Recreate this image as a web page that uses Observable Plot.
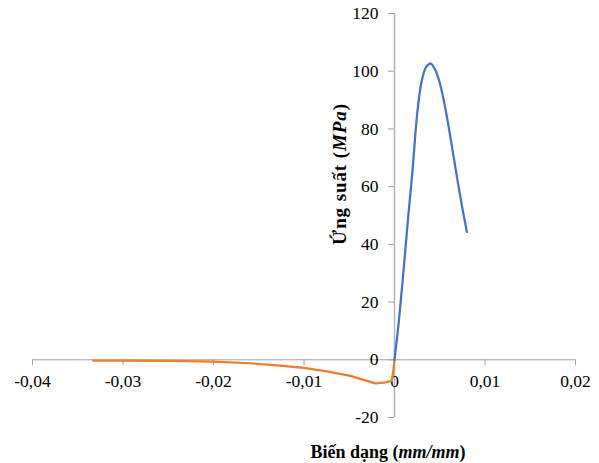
<!DOCTYPE html>
<html>
<head>
<meta charset="utf-8">
<script src="https://cdn.jsdelivr.net/npm/d3@7"></script>
<script src="https://cdn.jsdelivr.net/npm/@observablehq/plot@0.6"></script>
<style>
  html, body { margin: 0; padding: 0; background: #fff; }
  svg text { font-family: "Liberation Serif", "Times New Roman", serif; }
</style>
</head>
<body>
<div id="chart"></div>
<script>
// Tension branch (blue)
const tensionStrain = [0, 0.0005, 0.001, 0.0015, 0.002, 0.0025, 0.003, 0.0035, 0.004, 0.0045, 0.005, 0.0055, 0.006, 0.0065, 0.007, 0.0075, 0.008];
const tensionStress = [0, 14, 31, 49, 66, 85, 96.5, 101.5, 102.6, 100.5, 96, 89, 80.5, 71, 61.5, 52.5, 44.3];
// Compression branch (orange)
const compStrain = [-0.0333, -0.03, -0.025, -0.02, -0.016, -0.013, -0.01, -0.0075, -0.005, -0.0021, -0.001, -0.0003, -0.0001, 0];
const compStress = [-0.25, -0.25, -0.35, -0.6, -1.2, -1.9, -2.8, -4, -5.5, -8.2, -7.8, -7.3, -3, 0];

const xTicks = [-0.04, -0.03, -0.02, -0.01, 0, 0.01, 0.02];
const xTickLabels = ["-0,04", "-0,03", "-0,02", "-0,01", "0", "0,01", "0,02"];
const yTicks = [-20, 0, 20, 40, 60, 80, 100, 120];
const yTickLabels = ["-20", "0", "20", "40", "60", "80", "100", "120"];

const xTitle = ["Biến dạng (", "mm/mm", ")"];
const yTitle = ["Ứng suất (", "MPa", ")"];

const tension = tensionStrain.map((x, i) => ({x, y: tensionStress[i]}));
const compression = compStrain.map((x, i) => ({x, y: compStress[i]}));

const font = "Liberation Serif";

const svg = Plot.plot({
  width: 599,
  height: 463,
  marginLeft: 32,
  marginRight: 24,
  marginTop: 13,
  marginBottom: 46,
  x: {domain: [-0.04, 0.02], axis: null},
  y: {domain: [-20, 120], axis: null},
  style: {fontFamily: font, fontSize: "17px", color: "#000", background: "#fff"},
  marks: [
    Plot.ruleY([0], {x1: xTicks[0], x2: xTicks[xTicks.length - 1], stroke: "#a0a0a0", strokeWidth: 1}),
    Plot.ruleX(xTicks, {x: d => d, y1: 0, y2: 0, insetBottom: -6, stroke: "#a0a0a0", strokeWidth: 1}),
    Plot.ruleX([0], {y1: yTicks[0], y2: yTicks[yTicks.length - 1], stroke: "#b4b4b4", strokeWidth: 1.5}),
    Plot.ruleY(yTicks, {y: d => d, x1: 0, x2: 0, insetLeft: -6, stroke: "#a0a0a0", strokeWidth: 1}),
    Plot.text(xTicks, {x: d => d, y: 0, text: (d, i) => xTickLabels[i], dy: 21.5, lineAnchor: "middle", fill: "#000", fontFamily: font, fontSize: 17.5}),
    Plot.text(yTicks, {x: 0, y: d => d, text: (d, i) => yTickLabels[i], dx: -16, textAnchor: "end", lineAnchor: "middle", fill: "#000", fontFamily: font, fontSize: 17.5}),
    Plot.line(compression, {x: "x", y: "y", stroke: "#ED7D31", strokeWidth: 2.25, curve: "linear"}),
    Plot.line(tension, {x: "x", y: "y", stroke: "#4472C4", strokeWidth: 2.25, curve: "catmull-rom"})
  ]
});

const s = d3.select(svg);
const xt = s.append("text")
  .attr("x", 388).attr("y", 458)
  .attr("text-anchor", "middle")
  .style("font-family", font).style("font-size", "18px").style("font-weight", "bold").attr("fill", "#000");
xt.append("tspan").text(xTitle[0]);
xt.append("tspan").style("font-style", "italic").text(xTitle[1]);
xt.append("tspan").text(xTitle[2]);

const yt = s.append("text")
  .attr("transform", "translate(346,174) rotate(-90)")
  .attr("text-anchor", "middle")
  .style("font-family", font).style("font-size", "19px").style("font-weight", "bold")
  .style("letter-spacing", "0.9px").attr("fill", "#000");
yt.append("tspan").text(yTitle[0]);
yt.append("tspan").style("font-style", "italic").text(yTitle[1]);
yt.append("tspan").text(yTitle[2]);

document.getElementById("chart").appendChild(svg);
</script>
</body>
</html>
